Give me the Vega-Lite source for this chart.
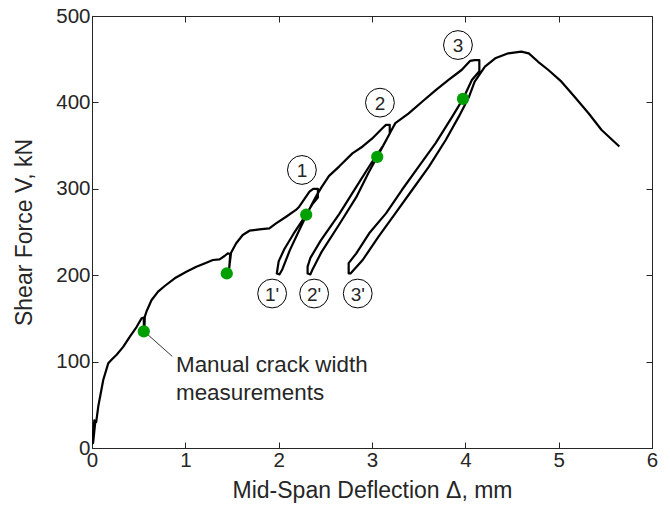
{
  "$schema": "https://vega.github.io/schema/vega-lite/v6.json",
  "width": 560,
  "height": 432,
  "autosize": "none",
  "padding": {"left": 92, "top": 16, "right": 18, "bottom": 69},
  "background": "white",
  "config": {
    "view": {"stroke": "#262626", "strokeWidth": 1},
    "axis": {
      "grid": false,
      "domainColor": "#262626",
      "tickColor": "#262626",
      "labelColor": "#262626",
      "titleColor": "#262626",
      "labelFont": "Liberation Sans",
      "titleFont": "Liberation Sans",
      "labelFontSize": 20.5,
      "titleFontSize": 23,
      "titleFontWeight": "normal",
      "labelFlush": false,
      "labelOverlap": false,
      "tickSize": -6,
      "domainWidth": 1,
      "tickWidth": 1
    }
  },
  "datasets": {
    "curve": [
      {"o": 1, "d": 0.0, "v": 4}, {"o": 2, "d": 0.025, "v": 32}, {"o": 3, "d": 0.012, "v": 6}, {"o": 4, "d": 0.035, "v": 30},
      {"o": 5, "d": 0.045, "v": 30}, {"o": 6, "d": 0.067, "v": 48}, {"o": 7, "d": 0.121, "v": 79}, {"o": 8, "d": 0.174, "v": 98},
      {"o": 9, "d": 0.217, "v": 103}, {"o": 10, "d": 0.264, "v": 108}, {"o": 11, "d": 0.334, "v": 117}, {"o": 12, "d": 0.406, "v": 129},
      {"o": 13, "d": 0.477, "v": 140}, {"o": 14, "d": 0.531, "v": 150}, {"o": 15, "d": 0.555, "v": 151}, {"o": 16, "d": 0.556, "v": 137},
      {"o": 17, "d": 0.562, "v": 140}, {"o": 18, "d": 0.566, "v": 152}, {"o": 19, "d": 0.584, "v": 158}, {"o": 20, "d": 0.637, "v": 171},
      {"o": 21, "d": 0.708, "v": 181}, {"o": 22, "d": 0.779, "v": 187.5}, {"o": 23, "d": 0.886, "v": 196.4}, {"o": 24, "d": 1.011, "v": 204},
      {"o": 25, "d": 1.118, "v": 209.8}, {"o": 26, "d": 1.225, "v": 214.5}, {"o": 27, "d": 1.295, "v": 217.6}, {"o": 28, "d": 1.367, "v": 218.4},
      {"o": 29, "d": 1.42, "v": 222.2}, {"o": 30, "d": 1.455, "v": 225.3}, {"o": 31, "d": 1.481, "v": 224.5}, {"o": 32, "d": 1.47, "v": 208},
      {"o": 33, "d": 1.474, "v": 212}, {"o": 34, "d": 1.49, "v": 226}, {"o": 35, "d": 1.545, "v": 237}, {"o": 36, "d": 1.615, "v": 246.5},
      {"o": 37, "d": 1.687, "v": 251.5}, {"o": 38, "d": 1.794, "v": 253.1}, {"o": 39, "d": 1.9, "v": 254.3}, {"o": 40, "d": 1.972, "v": 260},
      {"o": 41, "d": 2.08, "v": 267.7}, {"o": 42, "d": 2.185, "v": 275.5}, {"o": 43, "d": 2.22, "v": 279.3}, {"o": 44, "d": 2.33, "v": 296.6},
      {"o": 45, "d": 2.37, "v": 300}, {"o": 46, "d": 2.42, "v": 300}, {"o": 47, "d": 2.42, "v": 290},
      {"o": 48, "d": 2.36, "v": 282}, {"o": 49, "d": 2.27, "v": 266}, {"o": 50, "d": 2.16, "v": 248}, {"o": 51, "d": 2.06, "v": 230},
      {"o": 52, "d": 2.0, "v": 216}, {"o": 53, "d": 1.98, "v": 202}, {"o": 54, "d": 2.01, "v": 201},
      {"o": 55, "d": 2.04, "v": 207}, {"o": 56, "d": 2.12, "v": 229}, {"o": 57, "d": 2.22, "v": 252}, {"o": 58, "d": 2.3, "v": 270},
      {"o": 59, "d": 2.36, "v": 283}, {"o": 60, "d": 2.41, "v": 293}, {"o": 61, "d": 2.46, "v": 302},
      {"o": 62, "d": 2.54, "v": 315}, {"o": 63, "d": 2.65, "v": 326}, {"o": 64, "d": 2.79, "v": 341}, {"o": 65, "d": 2.9, "v": 349},
      {"o": 66, "d": 3.0, "v": 358}, {"o": 67, "d": 3.13, "v": 372}, {"o": 68, "d": 3.15, "v": 374}, {"o": 69, "d": 3.19, "v": 374},
      {"o": 70, "d": 3.19, "v": 364},
      {"o": 71, "d": 3.12, "v": 350}, {"o": 72, "d": 3.0, "v": 331}, {"o": 73, "d": 2.83, "v": 302}, {"o": 74, "d": 2.65, "v": 271},
      {"o": 75, "d": 2.45, "v": 240}, {"o": 76, "d": 2.34, "v": 220}, {"o": 77, "d": 2.31, "v": 210}, {"o": 78, "d": 2.31, "v": 202},
      {"o": 79, "d": 2.34, "v": 201},
      {"o": 80, "d": 2.36, "v": 206}, {"o": 81, "d": 2.46, "v": 227}, {"o": 82, "d": 2.65, "v": 259}, {"o": 83, "d": 2.83, "v": 290},
      {"o": 84, "d": 2.96, "v": 318}, {"o": 85, "d": 3.056, "v": 337}, {"o": 86, "d": 3.14, "v": 354}, {"o": 87, "d": 3.21, "v": 368},
      {"o": 88, "d": 3.25, "v": 376},
      {"o": 89, "d": 3.39, "v": 387}, {"o": 90, "d": 3.54, "v": 401}, {"o": 91, "d": 3.68, "v": 414}, {"o": 92, "d": 3.82, "v": 426},
      {"o": 93, "d": 3.96, "v": 437.5}, {"o": 94, "d": 4.05, "v": 448}, {"o": 95, "d": 4.1, "v": 449}, {"o": 96, "d": 4.15, "v": 449},
      {"o": 97, "d": 4.15, "v": 436},
      {"o": 98, "d": 4.07, "v": 426}, {"o": 99, "d": 3.975, "v": 404}, {"o": 100, "d": 3.86, "v": 383.5}, {"o": 101, "d": 3.68, "v": 352.6},
      {"o": 102, "d": 3.5, "v": 325.6}, {"o": 103, "d": 3.32, "v": 298.6}, {"o": 104, "d": 3.15, "v": 271.6}, {"o": 105, "d": 2.97, "v": 248.5},
      {"o": 106, "d": 2.83, "v": 225}, {"o": 107, "d": 2.75, "v": 214}, {"o": 108, "d": 2.75, "v": 202}, {"o": 109, "d": 2.77, "v": 202},
      {"o": 110, "d": 2.9, "v": 217.6}, {"o": 111, "d": 3.07, "v": 244.6}, {"o": 112, "d": 3.25, "v": 271.6}, {"o": 113, "d": 3.43, "v": 298.6},
      {"o": 114, "d": 3.61, "v": 325.6}, {"o": 115, "d": 3.79, "v": 356.5}, {"o": 116, "d": 3.93, "v": 383.5}, {"o": 117, "d": 4.04, "v": 406.6},
      {"o": 118, "d": 4.1, "v": 424}, {"o": 119, "d": 4.21, "v": 441.3}, {"o": 120, "d": 4.32, "v": 451}, {"o": 121, "d": 4.46, "v": 456.8},
      {"o": 122, "d": 4.6, "v": 458.7}, {"o": 123, "d": 4.68, "v": 456.8}, {"o": 124, "d": 4.78, "v": 447}, {"o": 125, "d": 4.89, "v": 437.5},
      {"o": 126, "d": 5.03, "v": 424}, {"o": 127, "d": 5.17, "v": 406.6}, {"o": 128, "d": 5.32, "v": 387.4}, {"o": 129, "d": 5.46, "v": 368},
      {"o": 130, "d": 5.65, "v": 349}
    ],
    "dots": [
      {"d": 0.555, "v": 135}, {"d": 1.444, "v": 202}, {"d": 2.295, "v": 270}, {"d": 3.056, "v": 337}, {"d": 3.975, "v": 404}
    ],
    "leader": [
      {"d": 0.6, "v": 131}, {"d": 0.86, "v": 106}
    ],
    "marks": [
      {"lab": "1", "d": 2.249, "v": 321.8}, {"lab": "2", "d": 3.085, "v": 399.7}, {"lab": "3", "d": 3.921, "v": 466.4},
      {"lab": "1'", "d": 1.93, "v": 178.8}, {"lab": "2'", "d": 2.38, "v": 178.8}, {"lab": "3'", "d": 2.847, "v": 178.8}
    ],
    "note": [
      {"t": "Manual crack width", "d": 0.9, "v": 88.3}, {"t": "measurements", "d": 0.9, "v": 55.6}
    ]
  },
  "layer": [
    {
      "data": {"name": "curve"},
      "mark": {"type": "line", "color": "black", "strokeWidth": 2.2, "strokeJoin": "round", "clip": true},
      "encoding": {
        "x": {"field": "d", "type": "quantitative", "scale": {"domain": [0, 6], "nice": false},
              "axis": {"values": [0, 1, 2, 3, 4, 5, 6], "title": "Mid-Span Deflection Δ, mm", "labelPadding": 8, "titlePadding": 9}},
        "y": {"field": "v", "type": "quantitative", "scale": {"domain": [0, 500], "nice": false},
              "axis": {"values": [0, 100, 200, 300, 400, 500], "title": "Shear Force V, kN", "labelPadding": 8, "titlePadding": 19}},
        "order": {"field": "o", "type": "quantitative"}
      }
    },
    {
      "data": {"name": "dots"},
      "mark": {"type": "point", "opacity": 0},
      "encoding": {
        "x": {"field": "d", "type": "quantitative", "axis": {"orient": "top", "values": [0, 1, 2, 3, 4, 5, 6], "labels": false, "title": null, "domain": false}},
        "y": {"field": "v", "type": "quantitative", "axis": {"orient": "right", "values": [0, 100, 200, 300, 400, 500], "labels": false, "title": null, "domain": false}}
      }
    },
    {
      "data": {"name": "leader"},
      "mark": {"type": "line", "color": "black", "strokeWidth": 0.8},
      "encoding": {
        "x": {"field": "d", "type": "quantitative", "axis": null},
        "y": {"field": "v", "type": "quantitative", "axis": null}
      }
    },
    {
      "data": {"name": "dots"},
      "mark": {"type": "point", "filled": true, "shape": "circle", "size": 150, "color": "#00A000", "opacity": 1},
      "encoding": {
        "x": {"field": "d", "type": "quantitative", "axis": null},
        "y": {"field": "v", "type": "quantitative", "axis": null}
      }
    },
    {
      "data": {"name": "marks"},
      "mark": {"type": "point", "filled": false, "shape": "circle", "size": 830, "color": "black", "strokeWidth": 1, "opacity": 1},
      "encoding": {
        "x": {"field": "d", "type": "quantitative", "axis": null},
        "y": {"field": "v", "type": "quantitative", "axis": null}
      }
    },
    {
      "data": {"name": "marks"},
      "mark": {"type": "text", "font": "Liberation Sans", "fontSize": 19, "color": "#262626", "baseline": "middle", "align": "center", "dy": 1},
      "encoding": {
        "x": {"field": "d", "type": "quantitative", "axis": null},
        "y": {"field": "v", "type": "quantitative", "axis": null},
        "text": {"field": "lab"}
      }
    },
    {
      "data": {"name": "note"},
      "mark": {"type": "text", "font": "Liberation Sans", "fontSize": 22.4, "color": "#262626", "baseline": "alphabetic", "align": "left"},
      "encoding": {
        "x": {"field": "d", "type": "quantitative", "axis": null},
        "y": {"field": "v", "type": "quantitative", "axis": null},
        "text": {"field": "t"}
      }
    }
  ],
  "resolve": {"axis": {"x": "independent", "y": "independent"}}
}
